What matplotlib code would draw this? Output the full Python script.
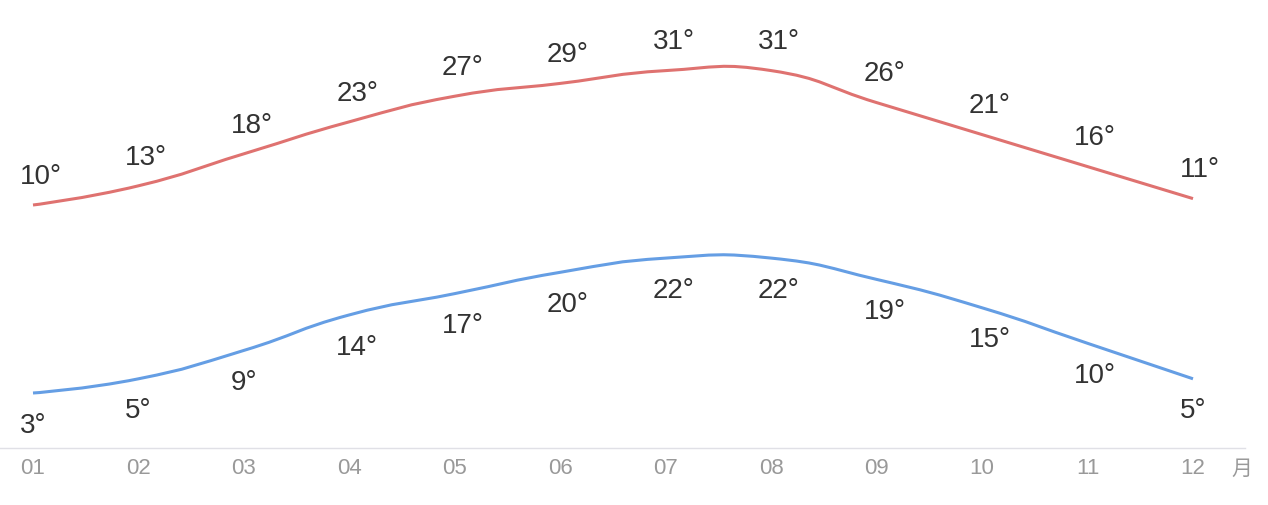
import numpy as np
import matplotlib
matplotlib.use("Agg")
import matplotlib.pyplot as plt
from matplotlib.path import Path
from matplotlib.patches import PathPatch

# monthly temperatures
months = ["01", "02", "03", "04", "05", "06", "07", "08", "09", "10", "11", "12"]
high_temp = [10, 13, 18, 23, 27, 29, 31, 31, 26, 21, 16, 11]
low_temp = [3, 5, 9, 14, 17, 20, 22, 22, 19, 15, 10, 5]

RED = "#df7270"
BLUE = "#659ee4"
TEXT = "#333333"

plt.rcParams['font.family'] = ['Liberation Sans', 'Noto Sans CJK SC', 'DejaVu Sans']

W, H = 1268, 505
STEP = (1193 - 33) / 11   # px per month


def smooth_path(xs, ys, sy, smooth=0.5):
    # echarts-like smoothing; sy = px per y unit (for segment lengths)
    n = len(xs)
    verts = [(xs[0], ys[0])]
    codes = [Path.MOVETO]
    cp0 = (xs[0], ys[0])
    for i in range(1, n):
        x, y = xs[i], ys[i]
        if i == n - 1:
            cp1 = (x, y)
            nxt = None
        else:
            vx = xs[i + 1] - xs[i - 1]
            vy = ys[i + 1] - ys[i - 1]
            l0 = np.hypot((x - xs[i - 1]) * STEP, (y - ys[i - 1]) * sy)
            l1 = np.hypot((xs[i + 1] - x) * STEP, (ys[i + 1] - y) * sy)
            r = l1 / (l0 + l1)
            cp1 = (x - vx * smooth * (1 - r), y - vy * smooth * (1 - r))
            nxt = (x + vx * smooth * r, y + vy * smooth * r)
        verts += [cp0, cp1, (x, y)]
        codes += [Path.CURVE4] * 3
        cp0 = nxt
    return Path(verts, codes)


fig = plt.figure(figsize=(12.68, 5.05), dpi=100)
ax = fig.add_axes([0, (H - 448) / H, 1245 / W, 448 / H])
ax2 = ax.twinx()

x = np.arange(1, len(months) + 1)
ax.set_xlim(1 - 33 / STEP, 1 + 1212 / STEP)

# separate vertical bands for the two series
ax.set_ylim(10 - (448 - 205) / 6.4, 10 + 205 / 6.4)
ax2.set_ylim(3 - (448 - 393) / 7.1, 3 + 393 / 7.1)

ax.add_patch(PathPatch(smooth_path(x, high_temp, 6.4), facecolor="none", edgecolor=RED,
                       lw=2.2, capstyle="butt", joinstyle="round"))
ax2.add_patch(PathPatch(smooth_path(x, low_temp, 7.1), facecolor="none", edgecolor=BLUE,
                        lw=2.2, capstyle="butt", joinstyle="round"))

for xi, v in zip(x, high_temp):
    ax.annotate(f"{v}°", (xi, v), xytext=(-9.5, 20.3), textcoords="offset points",
                ha="left", va="center", fontsize=20, color=TEXT)
for xi, v in zip(x, low_temp):
    ax2.annotate(f"{v}°", (xi, v), xytext=(-9.5, -23.5), textcoords="offset points",
                 ha="left", va="center", fontsize=20, color=TEXT)

for a in (ax, ax2):
    for s in ("top", "right", "left"):
        a.spines[s].set_visible(False)
    a.set_yticks([])
ax2.spines["bottom"].set_visible(False)
ax.spines["bottom"].set_color("#e0e0e6")
ax.spines["bottom"].set_linewidth(1)

ax.set_xticks(x)
ax.set_xticklabels(months)
ax.tick_params(axis="x", length=0, pad=7.5, labelsize=16, labelcolor="#999999")

fig.text(1242 / W, 1 - 469 / H, "月", ha="center", va="center", fontsize=15,
         color="#999999", family=["Noto Sans CJK SC", "DejaVu Sans"])

fig.savefig("out.png", dpi=100)
